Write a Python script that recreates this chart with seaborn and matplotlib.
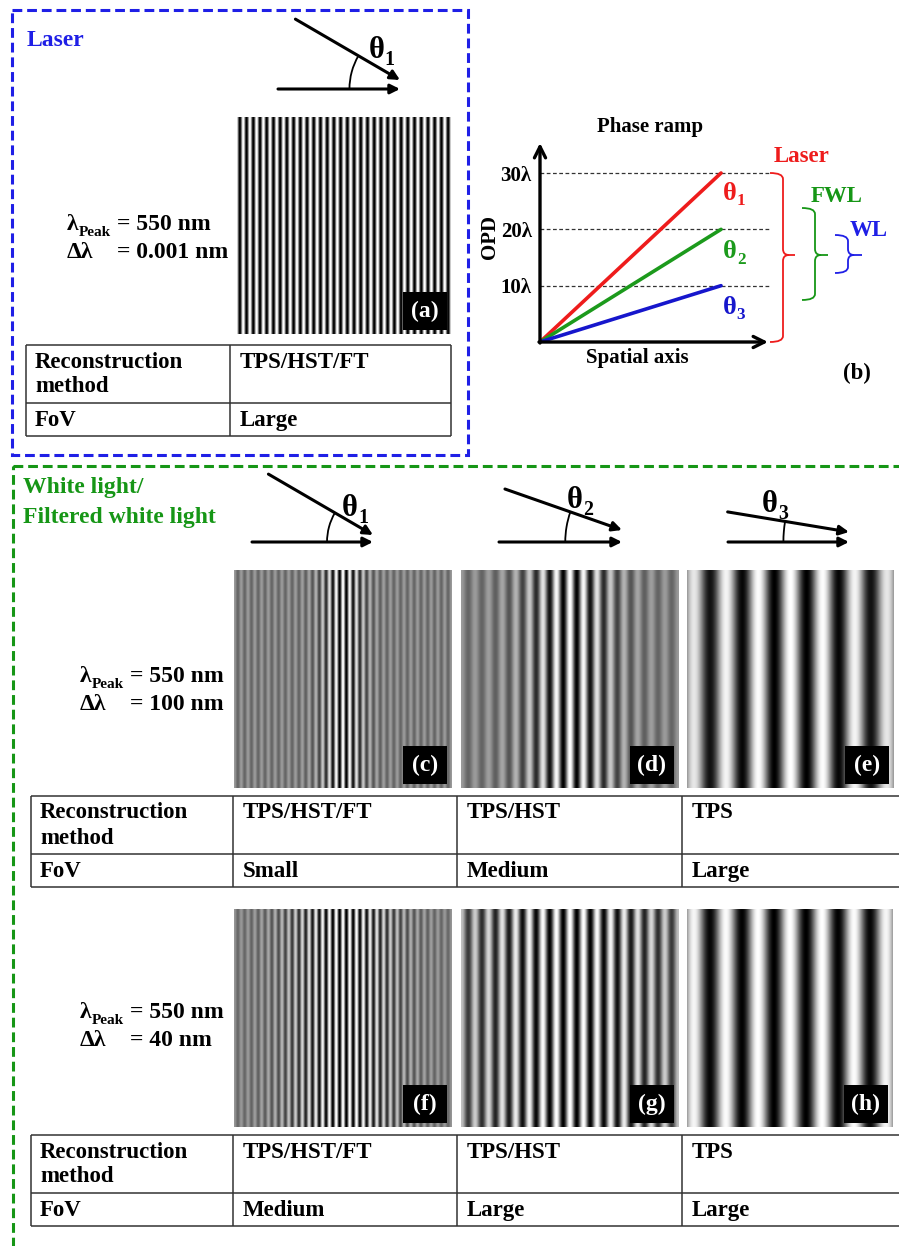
import numpy as np
import pandas as pd
import matplotlib
matplotlib.use("Agg")
import matplotlib.pyplot as plt
import seaborn as sns
from matplotlib.patches import Rectangle, Arc, PathPatch
from matplotlib.path import Path

# ---------------- data ----------------
panel_ids = ['a', 'c', 'd', 'e', 'f', 'g', 'h']
fringe_counts = [32, 32, 16, 6.4, 32, 16, 6.4]          # fringes across each image
envelope_width = [1e6, 0.10, 0.21, 1.0, 0.26, 0.6, 1.6]  # coherence envelope (fraction of width)
envelope_floor = [1.0, 0.2, 0.2, 0.0, 0.15, 0.0, 0.0]

angle_names = ['θ1', 'θ2', 'θ3']
opd_end = [30, 20, 10]          # OPD (in λ) reached at end of spatial axis
opd_ticks = [10, 20, 30]
opd_tick_labels = ['10λ', '20λ', '30λ']
angle_colors = ['#ee1c1c', '#1c9a1c', '#1616cc']

lambda_peak = ['550 nm', '550 nm', '550 nm']
delta_lambda = ['0.001 nm', '100 nm', '40 nm']

table_methods_laser = ['TPS/HST/FT']
table_fov_laser = ['Large']
table_methods_wl = ['TPS/HST/FT', 'TPS/HST', 'TPS']
table_fov_100 = ['Small', 'Medium', 'Large']
table_fov_40 = ['Medium', 'Large', 'Large']

# ---------------- setup ----------------
sns.set_theme(style='white')
SERIF = ['Liberation Serif', 'DejaVu Serif']
plt.rcParams['font.family'] = SERIF
plt.rcParams['font.weight'] = 'bold'
plt.rcParams['text.color'] = 'black'
plt.rcParams['axes.labelcolor'] = 'black'
plt.rcParams['xtick.color'] = 'black'
plt.rcParams['ytick.color'] = 'black'

W, H = 899, 1246
fig = plt.figure(figsize=(W / 100, H / 100), dpi=100)


def rect(x0, y0, x1, y1):
    return [x0 / W, 1 - y1 / H, (x1 - x0) / W, (y1 - y0) / H]


BLUE = '#1f1fe6'
GREEN = '#169616'
RED = '#ee1c1c'

# ---------------- fringe images ----------------
img_boxes = {
    'a': (236, 117, 452, 334),
    'c': (234, 570, 452, 788),
    'd': (461, 570, 679, 788),
    'e': (687, 570, 894, 788),
    'f': (234, 909, 452, 1127),
    'g': (461, 909, 679, 1127),
    'h': (687, 909, 893, 1127),
}

for pid, nfr, wenv, fl in zip(panel_ids, fringe_counts, envelope_width, envelope_floor):
    x0, y0, x1, y1 = img_boxes[pid]
    npx = int(x1 - x0)
    xs = np.linspace(-0.5, 0.5, npx)
    env = fl + (1 - fl) * np.exp(-(xs / wenv) ** 2)
    prof = 0.5 + 0.5 * env * np.cos(2 * np.pi * nfr * xs)
    img = np.tile(prof, (4, 1))
    ax = fig.add_axes(rect(x0, y0, x1, y1))
    sns.heatmap(img, cmap='gray', vmin=0, vmax=1, cbar=False,
                xticklabels=False, yticklabels=False, ax=ax, rasterized=True)
    ax.set_xlabel('')
    ax.set_ylabel('')
    wpx, hpx = x1 - x0, y1 - y0
    bw, bh = 44 / wpx, 38 / hpx
    mr, mb = 5 / wpx, 4 / hpx
    ax.add_patch(Rectangle((1 - mr - bw, mb), bw, bh, transform=ax.transAxes,
                           fc='black', ec='none', zorder=5))
    ax.text(1 - mr - bw / 2, mb + bh / 2, f'({pid})', transform=ax.transAxes,
            ha='center', va='center', color='white', fontsize=17,
            fontweight='bold', zorder=6)

# ---------------- panel (b): phase ramp ----------------
axb = fig.add_axes(rect(540, 140, 775, 342))
df = pd.DataFrame({
    'spatial': [0.0, 1.0] * 3,
    'opd': [v for e in opd_end for v in (0, e)],
    'angle': [a for a in angle_names for _ in range(2)],
})
axb.hlines(opd_ticks, 0, 1.271, colors='#333333', linestyles=(0, (3, 2)), lw=0.9, zorder=1)
sns.lineplot(data=df, x='spatial', y='opd', hue='angle',
             palette=dict(zip(angle_names, angle_colors)), lw=2.6,
             legend=False, ax=axb, zorder=3)
axb.set_xlim(0, 1.298)
axb.set_ylim(0, 35.86)
axb.set_xticks([])
axb.set_yticks(opd_ticks)
axb.set_yticklabels(opd_tick_labels, fontsize=15, fontweight='bold')
axb.tick_params(axis='y', length=0, pad=6)
for s in axb.spines.values():
    s.set_visible(False)
axb.patch.set_alpha(0)
axb.set_xlabel('Spatial axis', fontsize=15, fontweight='bold')
axb.xaxis.set_label_coords((637 - 540) / 235, (342 - 348) / 202)
axb.set_ylabel('OPD', fontsize=15, fontweight='bold')
axb.yaxis.set_label_coords((500 - 540) / 235, (342 - 237) / 202)

# ---------------- overlay (pixel coords) ----------------
ov = fig.add_axes([0, 0, 1, 1], zorder=10)
ov.set_xlim(0, W)
ov.set_ylim(H, 0)
ov.axis('off')

# dashed boxes
ov.add_patch(Rectangle((12, 10), 456, 445, fill=False, ec=BLUE, lw=2.2,
                       ls=(0, (3.2, 1.6))))
ov.add_patch(Rectangle((13, 466), 930, 820, fill=False, ec=GREEN, lw=2.2,
                       ls=(0, (3.2, 1.6))))

ov.text(27, 40, 'Laser', color=BLUE, fontsize=17, fontweight='bold', ha='left', va='center')
ov.text(23, 488, 'White light/', color=GREEN, fontsize=17, fontweight='bold', ha='left', va='center')
ov.text(23, 517, 'Filtered white light', color=GREEN, fontsize=17, fontweight='bold', ha='left', va='center')


def sub_label(x, y, main, sub, size, color='black', subsize=None, dy=0.16):
    t = ov.text(x, y, main, fontsize=size, color=color, fontweight='bold',
                ha='left', va='center')
    ov.annotate(sub, xy=(1.0, dy), xycoords=t, fontsize=subsize or size * 0.65,
                color=color, fontweight='bold', ha='left', va='center')
    return t


def angle_diagram(xh0, xh1, yh, ang_deg, length, gap, r, lab_xy, lab):
    a = np.deg2rad(ang_deg)
    xe, ye = xh1, yh - gap
    xs, ys = xe - length * np.cos(a), ye - length * np.sin(a)
    ap = dict(arrowstyle='-|>', lw=2.2, color='black', mutation_scale=14,
              shrinkA=0, shrinkB=0)
    ov.annotate('', xy=(xe, ye), xytext=(xs, ys), arrowprops=ap)
    ov.annotate('', xy=(xh1, yh), xytext=(xh0, yh), arrowprops=ap)
    cx = xe + gap / np.tan(a)
    ov.add_patch(Arc((cx, yh), 2 * r, 2 * r, theta1=180, theta2=180 + ang_deg,
                     color='black', lw=1.3))
    sub_label(lab_xy[0], lab_xy[1], 'θ', lab[1], 22)


angle_diagram(278, 400, 89, 30.2, 121, 9, 66, (369, 50), 'θ1')
angle_diagram(252, 373, 542, 30.2, 121, 7, 58, (342, 508), 'θ1')
angle_diagram(499, 622, 542, 19.3, 124, 12, 91, (567, 500), 'θ2')
angle_diagram(728, 849, 542, 9.4, 123, 10, 126, (762, 504), 'θ3')

# lambda texts
lam_pos = [(67, 117, 225, 253), (80, 130, 677, 704), (80, 130, 1013, 1040)]
for (xl, xe, y1, y2), lp, dl in zip(lam_pos, lambda_peak, delta_lambda):
    sub_label(xl, y1, 'λ', 'Peak', 17, subsize=11, dy=0.12)
    ov.text(xe, y1, '= ' + lp, fontsize=17, fontweight='bold', ha='left', va='center')
    ov.text(xl, y2, 'Δλ', fontsize=17, fontweight='bold', ha='left', va='center')
    ov.text(xe, y2, '= ' + dl, fontsize=17, fontweight='bold', ha='left', va='center')


# tables
def draw_table(xcols, top, mid, bot, methods, fovs):
    lc = '#333333'
    ov.plot([xcols[0], xcols[-1]], [top, top], color=lc, lw=1.1, solid_capstyle='butt')
    ov.plot([xcols[0], xcols[-1]], [mid, mid], color=lc, lw=1.1, solid_capstyle='butt')
    ov.plot([xcols[0], xcols[-1]], [bot, bot], color=lc, lw=1.1, solid_capstyle='butt')
    for xc in xcols:
        ov.plot([xc, xc], [top, bot], color=lc, lw=1.1, solid_capstyle='butt')
    kw = dict(fontsize=16.5, fontweight='bold', ha='left', va='center')
    ov.text(xcols[0] + 9, top + 17, 'Reconstruction', **kw)
    ov.text(xcols[0] + 9, top + 42, 'method', **kw)
    ov.text(xcols[0] + 9, (mid + bot) / 2 + 1, 'FoV', **kw)
    for xc, m, f in zip(xcols[1:], methods, fovs):
        ov.text(xc + 10, top + 17, m, **kw)
        ov.text(xc + 10, (mid + bot) / 2 + 1, f, **kw)


draw_table([26, 230, 451], 345, 403, 436, table_methods_laser, table_fov_laser)
draw_table([31, 233, 457, 682, 960], 796, 854, 887, table_methods_wl, table_fov_100)
draw_table([31, 233, 457, 682, 960], 1135, 1193, 1226, table_methods_wl, table_fov_40)

# panel (b) decorations
apb = dict(arrowstyle='->', lw=2.4, color='black', mutation_scale=20, shrinkA=0, shrinkB=0)
ov.annotate('', xy=(540, 143), xytext=(540, 343), arrowprops=apb)
ov.annotate('', xy=(768, 342), xytext=(539, 342), arrowprops=apb)
ov.text(650, 127, 'Phase ramp', fontsize=15, fontweight='bold', ha='center', va='center')
ov.text(857, 373, '(b)', fontsize=16.5, fontweight='bold', ha='center', va='center')
for (ly, nm, col) in zip([193, 252, 307], angle_names, angle_colors):
    sub_label(723, ly, 'θ', nm[1], 19, color=col)


def brace(x0, xv, xt, ytop, ybot, ymid, color, r=6):
    verts = [(x0, ytop), (xv, ytop), (xv, ytop + r),
             (xv, ymid - r), (xv, ymid), (xv + r, ymid), (xt, ymid),
             (xv + r, ymid), (xv, ymid), (xv, ymid + r),
             (xv, ybot - r), (xv, ybot), (x0, ybot)]
    codes = [Path.MOVETO, Path.CURVE3, Path.CURVE3,
             Path.LINETO, Path.CURVE3, Path.CURVE3, Path.LINETO,
             Path.MOVETO, Path.CURVE3, Path.CURVE3,
             Path.LINETO, Path.CURVE3, Path.CURVE3]
    ov.add_patch(PathPatch(Path(verts, codes), fill=False, ec=color, lw=1.3))


brace(770, 783, 795, 173, 342, 255, RED)
brace(802, 815, 828, 208, 300, 255, GREEN)
brace(835, 848, 862, 235, 273, 255, BLUE)
ov.text(802, 157, 'Laser', color=RED, fontsize=16.5, fontweight='bold', ha='center', va='center')
ov.text(837, 197, 'FWL', color=GREEN, fontsize=16.5, fontweight='bold', ha='center', va='center')
ov.text(869, 231, 'WL', color=BLUE, fontsize=16.5, fontweight='bold', ha='center', va='center')

fig.savefig('out.png', dpi=100)
